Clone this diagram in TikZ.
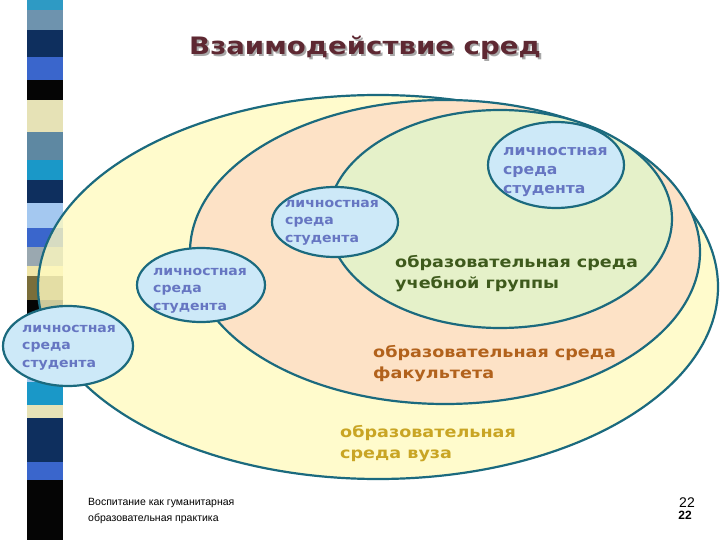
\documentclass[tikz,border=0pt]{standalone}
\usepackage{fontspec}
\setmainfont{DejaVu Sans}
\newfontfamily\arialfont{Liberation Sans}
\newfontfamily\blackfont[FakeStretch=1.15]{DejaVu Sans Bold}
\newfontfamily\lblfont[FakeStretch=1.08]{DejaVu Sans Bold}
\usetikzlibrary{shapes.geometric}
\definecolor{edgec}{HTML}{1B6A7E}
\definecolor{vuzfill}{HTML}{FFFAC0}
\definecolor{facfill}{HTML}{FDE2C6}
\definecolor{grpfill}{HTML}{E5F1C9}
\definecolor{pfill}{HTML}{CDE9F8}
\definecolor{lblblue}{HTML}{6676C2}
\definecolor{grptext}{HTML}{3E5A1C}
\definecolor{factext}{HTML}{B2621C}
\definecolor{vuztext}{HTML}{C9A524}
\definecolor{titlec}{HTML}{5E2832}
\definecolor{shadowc}{HTML}{A8A8A8}
\definecolor{sA}{HTML}{2E9AC4}
\definecolor{sB}{HTML}{6E93AE}
\definecolor{sC}{HTML}{0E2F5E}
\definecolor{sD}{HTML}{3A66CC}
\definecolor{sE}{HTML}{050505}
\definecolor{sF}{HTML}{E6E2B6}
\definecolor{sG}{HTML}{5E88A2}
\definecolor{sH}{HTML}{1A98C8}
\definecolor{sI}{HTML}{A4C8F0}
\definecolor{sJ}{HTML}{9AA8B0}
\definecolor{sK}{HTML}{F0E6A8}
\definecolor{sL}{HTML}{7A6E3A}
\tikzset{
  ell/.style={ellipse, draw=edgec, line width=2.2pt, inner sep=0pt},
  pers/.style={ell, fill=pfill},
  lbl/.style={font=\lblfont\fontsize{13}{17.5}\selectfont, text=lblblue, align=left, inner sep=0pt, anchor=north west},
  big/.style={font=\blackfont\fontsize{15.3}{21.5}\selectfont, align=left, inner sep=0pt, anchor=north west}
}
\begin{document}
\begin{tikzpicture}[x=1pt,y=-1pt]
\useasboundingbox[fill=white] (0,0) rectangle (720,540);
% left decorative strip
\foreach \a/\b/\c in {0/10/sA,10/30/sB,30/57/sC,57/80/sD,80/100/sE,100/132/sF,132/160/sG,160/180/sH,180/203/sC,203/228/sI,228/247/sD,247/266/sJ,266/276/sK,276/300/sL,300/320/sE,320/345/sI,345/360/sC,360/382/sI,382/405/sH,405/418/sF,418/440/sC,440/462/sC,462/480/sD,480/540/sE}
  \fill[\c] (27,\a) rectangle (63,\b);
% environments
\node[ell, fill=vuzfill, fill opacity=0.8, minimum width=680pt, minimum height=384pt] (vuz) at (378,287) {};
\node[ell, fill=facfill, minimum width=510pt, minimum height=304pt] (fac) at (445,252) {};
\node[ell, fill=grpfill, minimum width=344pt, minimum height=218pt] (grp) at (500,219) {};
% personal environments
\node[pers, minimum width=130pt, minimum height=80pt] (p1) at (68,346) {};
\node[pers, minimum width=128pt, minimum height=74pt] (p2) at (201,285) {};
\node[pers, minimum width=126pt, minimum height=70pt] (p3) at (335,222) {};
\node[pers, minimum width=136pt, minimum height=86pt] (p4) at (556,165) {};
% labels
\node[lbl] (t1) at (22,325) {личностная\\среда\\студента};
\node[lbl] (t2) at (153,268) {личностная\\среда\\студента};
\node[lbl] (t3) at (285,200) {личностная\\среда\\студента};
\node[lbl, font=\lblfont\fontsize{14.5}{19}\selectfont] (t4) at (503,147) {личностная\\среда\\студента};
\node[big, text=grptext] (tg) at (395,255) {образовательная среда\\учебной группы};
\node[big, text=factext] (tf) at (373,345) {образовательная среда\\факультета};
\node[big, text=vuztext, font=\blackfont\fontsize{15.3}{21}\selectfont] (tv) at (340,425) {образовательная\\среда вуза};
% title
\node[font=\blackfont\fontsize{24}{30}\selectfont, text=shadowc] (titsh) at (367,50) {Взаимодействие сред};
\node[font=\blackfont\fontsize{24}{30}\selectfont, text=titlec] (title) at (365,48) {Взаимодействие сред};
% footer
\node[font=\arialfont\fontsize{10.5}{16}\selectfont, align=left, anchor=west, inner sep=0pt] (foot) at (88,511) {Воспитание как гуманитарная\\образовательная практика};
\node[font=\arialfont\fontsize{14}{16}\selectfont, inner sep=0pt] (pg1) at (687,503) {22};
\node[font=\arialfont\bfseries\fontsize{12}{13}\selectfont, inner sep=0pt] (pg2) at (685,515) {22};
\end{tikzpicture}
\end{document}
